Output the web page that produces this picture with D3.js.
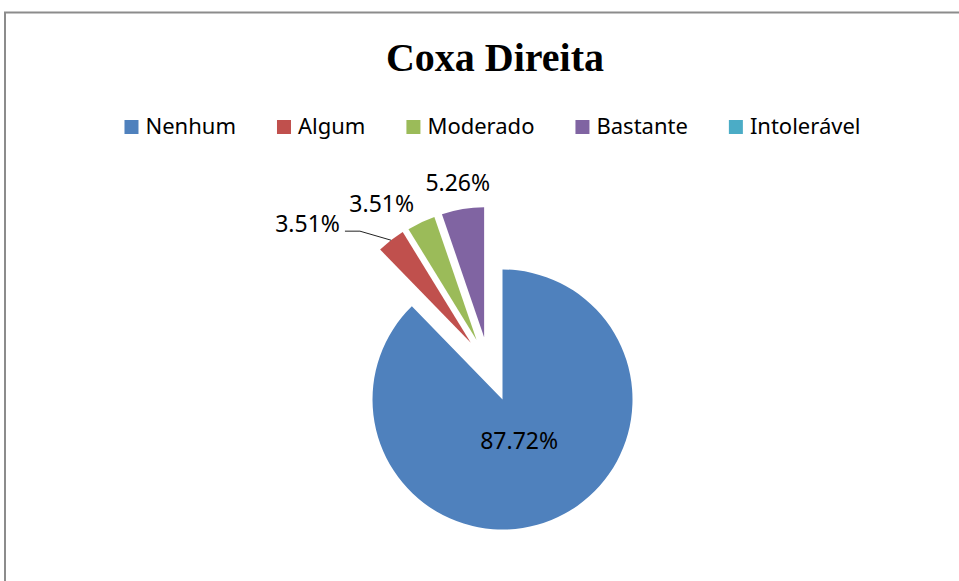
<!DOCTYPE html>
<html>
<head>
<meta charset="utf-8">
<script src="https://cdn.jsdelivr.net/npm/d3@7"></script>
<style>
  body { margin: 0; background: #fff; }
  svg { display: block; }
</style>
</head>
<body>
<svg id="chart" width="959" height="581"></svg>
<script>
// data
var title = "Coxa Direita"
var categories = ["Nenhum", "Algum", "Moderado", "Bastante", "Intolerável"]
var values = [87.72, 3.51, 3.51, 5.26, 0]
var colors = ["#4F81BD", "#C0504D", "#9BBB59", "#8064A2", "#4BACC6"]

var rows = categories.map((c, i) => ({ name: c, value: values[i], color: colors[i] }))

var width = 959
var height = 581
var cx = 502.5
var cy = 399.5
const r = 130
var explode = 65      // distance the small slices are pulled out
var spread = 0.45     // how much the pull direction follows each slice's own bisector
var fmt = v => d3.format(".2f")(v) + "%"

// label nudges from the outer arc midpoint (Excel-like placement)
var labelNudge = {
  "Algum": { dx: -51, dy: -8, anchor: "end", leader: true },
  "Moderado": { dx: -7, dy: -10, anchor: "end" },
  "Bastante": { dx: -5, dy: -18, anchor: "middle" }
}

var svg = d3.select("#chart")

// chart border (right and bottom edges run off the picture)
svg.append("rect")
  .attr("x", 5).attr("y", 12.5)
  .attr("width", width + 20).attr("height", height + 20)
  .attr("fill", "#fff")
  .attr("stroke", "#8c8c8c")
  .attr("stroke-width", 2)

svg.append("text")
  .attr("x", 495).attr("y", 71)
  .attr("text-anchor", "middle")
  .style("font-family", "'Liberation Serif', 'Times New Roman', serif")
  .style("font-weight", "bold")
  .style("font-size", "40px")
  .attr("fill", "#000")
  .text(title)

// legend
var legend = svg.append("g")
  .style("font-family", "'Noto Sans', sans-serif")
  .style("font-size", "22px")
var items = legend.selectAll("g").data(rows).enter().append("g")
items.append("rect")
  .attr("y", 120).attr("width", 14).attr("height", 14)
  .attr("fill", d => d.color)
items.append("text")
  .attr("x", 21).attr("y", 134)
  .attr("fill", "#000")
  .text(d => d.name)
var lx = 0
var gap = 41
items.each(function (d) {
  var w = d3.select(this).select("text").node().getComputedTextLength()
  d.lx = lx
  lx += 21 + w + gap
})
var total = lx - gap
var start = 492.5 - total / 2
items.attr("transform", d => "translate(" + (start + d.lx) + ",0)")

// pie
var pie = d3.pie().sort(null).value(d => d.value)
var arcs = pie(rows).filter(d => d.value > 0)
var mid = d => (d.startAngle + d.endAngle) / 2

var pulled = arcs.filter(d => d.index > 0)
var groupMid = (d3.min(pulled, d => d.startAngle) + d3.max(pulled, d => d.endAngle)) / 2
arcs.forEach(d => {
  if (d.index == 0) { d.ox = 0; d.oy = 0; return }
  var a = groupMid + spread * (mid(d) - groupMid)
  d.ox = Math.sin(a) * explode
  d.oy = -Math.cos(a) * explode
})

var arc = d3.arc().innerRadius(0).outerRadius(r)
var g = svg.append("g").attr("transform", "translate(" + cx + "," + cy + ")")

g.selectAll("path").data(arcs).enter().append("path")
  .attr("transform", d => "translate(" + d.ox + "," + d.oy + ")")
  .attr("d", arc)
  .attr("fill", d => d.data.color)

var labels = g.append("g")
  .style("font-family", "'Noto Sans', sans-serif")
  .style("font-size", "23px")
  .attr("fill", "#000")

// big slice: label inside, along the bisector
var inner = d3.arc().innerRadius(r * 0.34).outerRadius(r * 0.34)
arcs.filter(d => d.index == 0).forEach(d => {
  var p = inner.centroid(d)
  labels.append("text")
    .attr("x", p[0]).attr("y", p[1])
    .attr("dy", "0.36em")
    .attr("text-anchor", "middle")
    .text(fmt(d.value))
})

// small slices: labels outside, red one moved off with a leader line
var outer = d3.arc().innerRadius(r).outerRadius(r)
pulled.forEach(d => {
  var c = outer.centroid(d)
  var mx = c[0] + d.ox
  var my = c[1] + d.oy
  var n = labelNudge[d.data.name]
  var tx = mx + n.dx
  var ty = my + n.dy
  labels.append("text")
    .attr("x", tx).attr("y", ty)
    .attr("text-anchor", n.anchor)
    .text(fmt(d.value))
  if (n.leader) {
    g.append("path")
      .attr("d", d3.line()([[tx + 5, ty - 1], [tx + 20, ty - 1], [mx, my]]))
      .attr("fill", "none")
      .attr("stroke", "#222")
      .attr("stroke-width", 1)
  }
})
</script>
</body>
</html>
